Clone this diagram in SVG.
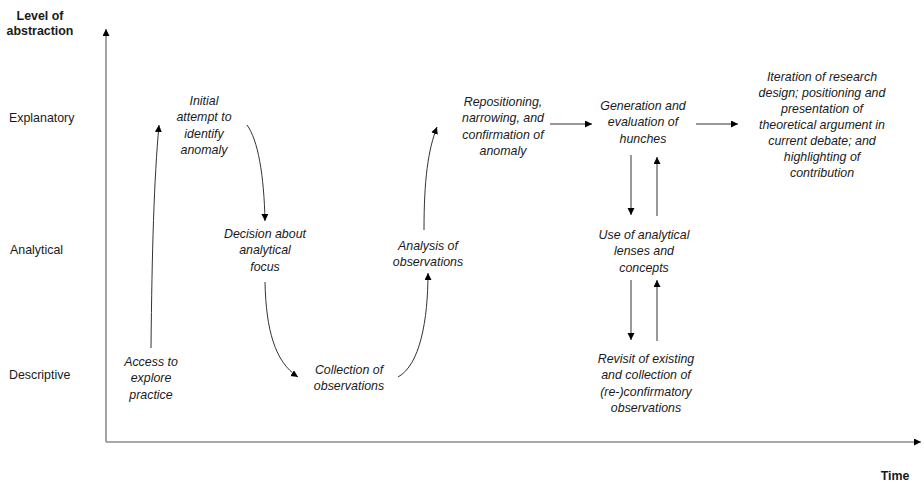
<svg xmlns="http://www.w3.org/2000/svg" width="924" height="482" viewBox="0 0 924 482">
<defs>
<marker id="ah" markerUnits="userSpaceOnUse" markerWidth="8" markerHeight="8" refX="7" refY="3.5" orient="auto">
<path d="M0,0 L7,3.5 L0,7 z" fill="#000"/>
</marker>
<style>
.t{font-family:"Liberation Sans",Arial,sans-serif;font-size:12.4px;fill:#1a1a1a}
.n{font-style:italic;text-anchor:middle}
.b{font-weight:bold}
.ax{stroke:#8c8c8c;stroke-width:1.6;fill:none}
.c{stroke:#333;stroke-width:1;fill:none}
</style>
</defs>
<rect width="924" height="482" fill="#fff"/>
<g id="axes">
<line class="ax" x1="106" y1="442" x2="106" y2="29" marker-end="url(#ah)"/>
<line class="ax" x1="106" y1="442" x2="921" y2="442" marker-end="url(#ah)"/>
<text class="t b" x="40" y="20" text-anchor="middle">Level of</text>
<text class="t b" x="40" y="35" text-anchor="middle">abstraction</text>
<text class="t" x="9" y="122">Explanatory</text>
<text class="t" x="10" y="254">Analytical</text>
<text class="t" x="9" y="379">Descriptive</text>
<text class="t b" x="895" y="480" text-anchor="middle">Time</text>
</g>
<g id="connectors">
<path class="c" d="M151,348 C152,250 154,180 159,125" marker-end="url(#ah)"/>
<path class="c" d="M247,125 C258,140 264,175 265,221" marker-end="url(#ah)"/>
<path class="c" d="M265,282 C266,330 275,362 298,377" marker-end="url(#ah)"/>
<path class="c" d="M398,377 C420,365 428,320 428,273" marker-end="url(#ah)"/>
<path class="c" d="M424,230 C424,180 428,150 437,127" marker-end="url(#ah)"/>
<line class="c" x1="550" y1="124" x2="592" y2="124" marker-end="url(#ah)"/>
<line class="c" x1="696" y1="124" x2="738" y2="124" marker-end="url(#ah)"/>
<line class="c" x1="631" y1="155" x2="631" y2="215" marker-end="url(#ah)"/>
<line class="c" x1="657" y1="216" x2="657" y2="157" marker-end="url(#ah)"/>
<line class="c" x1="631" y1="280" x2="631" y2="340" marker-end="url(#ah)"/>
<line class="c" x1="657" y1="341" x2="657" y2="280" marker-end="url(#ah)"/>
</g>
<g id="initial"><text class="t n" x="204" y="105"><tspan x="204">Initial</tspan><tspan x="204" dy="16.3">attempt to</tspan><tspan x="204" dy="16.3">identify</tspan><tspan x="204" dy="16.3">anomaly</tspan></text></g>
<g id="access"><text class="t n" x="151" y="366"><tspan x="151">Access to</tspan><tspan x="151" dy="16.3">explore</tspan><tspan x="151" dy="16.3">practice</tspan></text></g>
<g id="decision"><text class="t n" x="265" y="238"><tspan x="265">Decision about</tspan><tspan x="265" dy="16.3">analytical</tspan><tspan x="265" dy="16.3">focus</tspan></text></g>
<g id="collection"><text class="t n" x="349" y="374"><tspan x="349">Collection of</tspan><tspan x="349" dy="16.3">observations</tspan></text></g>
<g id="analysis"><text class="t n" x="428" y="250"><tspan x="428">Analysis of</tspan><tspan x="428" dy="16.3">observations</tspan></text></g>
<g id="repositioning"><text class="t n" x="503" y="106"><tspan x="503">Repositioning,</tspan><tspan x="503" dy="16.3">narrowing, and</tspan><tspan x="503" dy="16.3">confirmation of</tspan><tspan x="503" dy="16.3">anomaly</tspan></text></g>
<g id="generation"><text class="t n" x="643" y="110"><tspan x="643">Generation and</tspan><tspan x="643" dy="16.3">evaluation of</tspan><tspan x="643" dy="16.3">hunches</tspan></text></g>
<g id="use"><text class="t n" x="644" y="239"><tspan x="644">Use of analytical</tspan><tspan x="644" dy="16.3">lenses and</tspan><tspan x="644" dy="16.3">concepts</tspan></text></g>
<g id="revisit"><text class="t n" x="646" y="363"><tspan x="646">Revisit of existing</tspan><tspan x="646" dy="16.3">and collection of</tspan><tspan x="646" dy="16.3">(re-)confirmatory</tspan><tspan x="646" dy="16.3">observations</tspan></text></g>
<g id="iteration"><text class="t n" x="822" y="81"><tspan x="822">Iteration of research</tspan><tspan x="822" dy="16">design; positioning and</tspan><tspan x="822" dy="16">presentation of</tspan><tspan x="822" dy="16">theoretical argument in</tspan><tspan x="822" dy="16">current debate; and</tspan><tspan x="822" dy="16">highlighting of</tspan><tspan x="822" dy="16">contribution</tspan></text></g>
</svg>
